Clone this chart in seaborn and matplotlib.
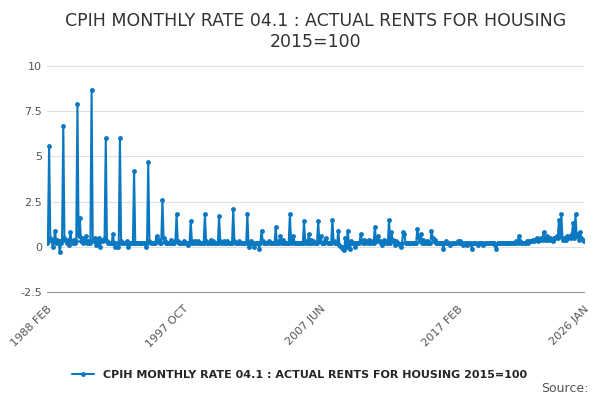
import numpy as np
import pandas as pd
import seaborn as sns
import matplotlib.pyplot as plt

# monthly rate, Feb 1988 .. Jan 2026 (one row per year, Jan..Dec)
rate = [
    0.2, 0.3, 5.6, 0.5, 0.4, 0.0, 0.3, 0.9, 0.2, 0.4, 0.3,          # 1988 (from Feb)
    -0.3, 0.2, 0.4, 6.7, 0.5, 0.3, 0.2, 0.4, 0.1, 0.8, 0.3, 0.2,    # 1989
    0.4, 0.2, 0.3, 7.9, 0.6, 1.6, 0.3, 0.5, 0.2, 0.3, 0.6, 0.2,     # 1990
    0.3, 0.2, 0.2, 8.7, 0.4, 0.3, 0.5, 0.1, 0.2, 0.5, 0.0, 0.3,     # 1991
    0.4, 0.3, 0.5, 6.0, 0.3, 0.2, 0.2, 0.2, 0.2, 0.7, 0.2, 0.0,     # 1992
    0.2, 0.0, 0.2, 6.0, 0.3, 0.2, 0.2, 0.2, 0.2, 0.3, 0.0, 0.2,     # 1993
    0.2, 0.2, 0.2, 4.2, 0.2, 0.2, 0.2, 0.2, 0.2, 0.2, 0.2, 0.2,     # 1994
    0.2, 0.0, 0.2, 4.7, 0.3, 0.2, 0.2, 0.2, 0.2, 0.2, 0.6, 0.3,     # 1995
    0.4, 0.2, 0.2, 2.6, 0.5, 0.3, 0.2, 0.2, 0.2, 0.2, 0.4, 0.2,     # 1996
    0.2, 0.2, 0.3, 1.8, 0.3, 0.2, 0.2, 0.2, 0.2, 0.3, 0.2, 0.2,     # 1997
    0.2, 0.1, 0.2, 1.4, 0.3, 0.2, 0.2, 0.3, 0.2, 0.3, 0.2, 0.2,     # 1998
    0.2, 0.2, 0.2, 1.8, 0.3, 0.2, 0.2, 0.2, 0.4, 0.2, 0.3, 0.2,     # 1999
    0.2, 0.2, 0.2, 1.7, 0.3, 0.2, 0.2, 0.3, 0.2, 0.2, 0.3, 0.2,     # 2000
    0.2, 0.2, 0.2, 2.1, 0.3, 0.2, 0.2, 0.2, 0.3, 0.2, 0.2, 0.2,     # 2001
    0.2, 0.2, 0.2, 1.8, 0.0, 0.2, 0.3, 0.2, 0.2, 0.0, 0.2, 0.2,     # 2002
    0.2, -0.1, 0.2, 0.9, 0.3, 0.2, 0.2, 0.2, 0.2, 0.3, 0.2, 0.2,    # 2003
    0.2, 0.2, 0.2, 1.1, 0.2, 0.3, 0.2, 0.6, 0.2, 0.4, 0.2, 0.2,     # 2004
    0.2, 0.2, 0.2, 1.8, 0.3, 0.2, 0.6, 0.2, 0.2, 0.2, 0.2, 0.2,     # 2005
    0.2, 0.2, 0.2, 1.4, 0.3, 0.2, 0.2, 0.7, 0.2, 0.4, 0.2, 0.3,     # 2006
    0.2, 0.2, 0.2, 1.4, 0.3, 0.6, 0.2, 0.2, 0.2, 0.4, 0.5, 0.2,     # 2007
    0.2, 0.2, 0.2, 1.5, 0.3, 0.2, 0.2, 0.2, 0.9, 0.1, 0.0, 0.0,     # 2008
    -0.1, -0.2, 0.5, 0.0, 0.9, 0.2, -0.1, 0.3, 0.2, 0.2, 0.0, 0.2,  # 2009
    0.2, 0.2, 0.2, 0.7, 0.3, 0.2, 0.4, 0.2, 0.3, 0.2, 0.4, 0.2,     # 2010
    0.3, 0.2, 0.2, 1.1, 0.4, 0.3, 0.6, 0.3, 0.2, 0.1, 0.2, 0.4,     # 2011
    0.2, 0.3, 0.2, 1.5, 0.2, 0.8, 0.4, 0.3, 0.1, 0.3, 0.2, 0.2,     # 2012
    0.1, 0.0, 0.2, 0.8, 0.7, 0.2, 0.2, 0.2, 0.2, 0.2, 0.2, 0.2,     # 2013
    0.2, 0.2, 0.2, 1.0, 0.5, 0.3, 0.7, 0.2, 0.4, 0.2, 0.2, 0.3,     # 2014
    0.2, 0.2, 0.2, 0.9, 0.5, 0.3, 0.4, 0.2, 0.2, 0.2, 0.2, 0.2,     # 2015
    0.2, -0.1, 0.2, 0.3, 0.2, 0.2, 0.2, 0.1, 0.2, 0.2, 0.2, 0.2,    # 2016
    0.2, 0.3, 0.2, 0.3, 0.2, 0.2, 0.1, 0.2, 0.2, 0.1, 0.2, 0.2,     # 2017
    0.2, -0.1, 0.2, 0.2, 0.2, 0.2, 0.1, 0.2, 0.2, 0.2, 0.2, 0.1,    # 2018
    0.2, 0.2, 0.2, 0.2, 0.2, 0.2, 0.2, 0.2, 0.2, 0.1, -0.1, 0.2,    # 2019
    0.2, 0.2, 0.2, 0.2, 0.2, 0.2, 0.2, 0.2, 0.2, 0.2, 0.2, 0.2,     # 2020
    0.2, 0.2, 0.2, 0.3, 0.2, 0.6, 0.3, 0.2, 0.2, 0.2, 0.2, 0.2,     # 2021
    0.3, 0.2, 0.3, 0.3, 0.3, 0.4, 0.3, 0.4, 0.5, 0.3, 0.4, 0.4,     # 2022
    0.5, 0.4, 0.8, 0.5, 0.4, 0.6, 0.4, 0.5, 0.4, 0.4, 0.3, 0.5,     # 2023
    0.5, 0.6, 0.5, 1.5, 0.6, 1.8, 0.4, 0.5, 0.4, 0.4, 0.6, 0.5,     # 2024
    0.6, 0.5, 0.7, 1.3, 0.5, 1.8, 0.6, 0.7, 0.4, 0.8, 0.5, 0.4,     # 2025
    0.3,                                                            # 2026
]
dates = pd.date_range("1988-02-01", periods=len(rate), freq="MS")
tick_dates = pd.to_datetime(["1988-02-01", "1997-10-01", "2007-06-01", "2017-02-01", "2026-01-01"])
tick_labels = ["1988 FEB", "1997 OCT", "2007 JUN", "2017 FEB", "2026 JAN"]
label = "CPIH MONTHLY RATE 04.1 : ACTUAL RENTS FOR HOUSING 2015=100"

df = pd.DataFrame({"date": dates, "rate": rate})

sns.set_style("white")
fig, ax = plt.subplots(figsize=(6, 4), dpi=100)
sns.lineplot(data=df, x="date", y="rate", ax=ax, color="#0b78c2", linewidth=1.5,
             marker="o", markersize=3.5, markeredgewidth=0, label=label)

ax.set_xlim(dates[0], dates[-1])
ax.set_ylim(-2.5, 10)
ax.set_yticks([-2.5, 0, 2.5, 5, 7.5, 10])
ax.set_yticklabels(["-2.5", "0", "2.5", "5", "7.5", "10"])
ax.set_xticks(tick_dates)
ax.set_xticklabels(tick_labels, rotation=45, ha="right", rotation_mode="anchor")
ax.tick_params(axis="both", labelsize=8, colors="#555555", length=0)
ax.tick_params(axis="x", length=5, color="#999999")
ax.yaxis.grid(True, color="#e0e0e0", linewidth=0.8)
ax.set_xlabel("")
ax.set_ylabel("")
for s in ["top", "right", "left"]:
    ax.spines[s].set_visible(False)
ax.spines["bottom"].set_color("#999999")

ax.set_title("CPIH MONTHLY RATE 04.1 : ACTUAL RENTS FOR HOUSING\n2015=100",
             fontsize=12.5, color="#333333", pad=14)
ax.legend(loc="upper center", bbox_to_anchor=(0.47, -0.3), frameon=False,
          fontsize=8, handlelength=2, prop={"weight": "bold", "size": 8})
fig.text(0.98, 0.02, "Source:", ha="right", fontsize=9, color="#555555")
fig.subplots_adjust(left=0.078, right=0.973, top=0.835, bottom=0.27)
fig.savefig("out.png", dpi=100)
